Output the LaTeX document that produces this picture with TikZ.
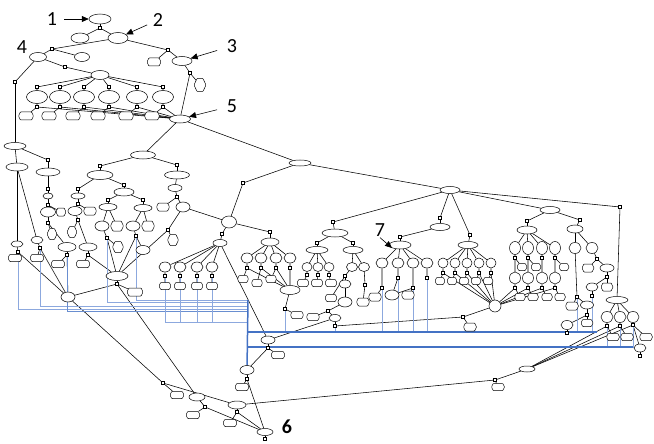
\documentclass[tikz,border=0pt]{standalone}
\usepackage{fontspec}
\setmainfont{Carlito}
\usepackage{tikz}
\usetikzlibrary{shapes.geometric,shapes.symbols,arrows.meta,backgrounds}
\definecolor{linkblue}{RGB}{68,114,196}
\definecolor{paleblue}{RGB}{140,168,222}
\tikzset{
  act/.style     = {ellipse, draw, line width=0.5pt, fill=white, inner sep=0pt},
  cond/.style    = {signal, signal to=east and west, signal pointer angle=130,
                    rounded corners=0.6pt, draw, line width=0.5pt, fill=white,
                    inner sep=0pt},
  gate/.style    = {rectangle, draw, line width=0.4pt, fill=white,
                    inner sep=0pt, minimum size=3pt},
  wire/.style    = {line width=0.55pt},
  feed/.style    = {paleblue, line width=0.8pt},
  bus/.style     = {linkblue, line width=1.5pt},
  num/.style     = {font=\fontsize{20}{20}\selectfont, inner sep=1pt},
  pointer/.style = {-{Triangle[length=7pt,width=6pt]}, line width=0.6pt},
}

\begin{document}
\begin{tikzpicture}[x=1pt,y=-1pt]
\useasboundingbox (0,0) rectangle (654,444);

% single ellipses
\foreach \n/\x/\y/\w/\h in {e1/100/19/22/10, e2/80/38/18/10, e3/118/38/20/11,
    e4/38/57/17/9, e5/82/57/15/9, e6/182/61/20/9, e7/100/75/18/9, e10/180/119/21/8,
    e20/15/146/22/7, e22/17/167/22/8, e23/48/172/24/8, e24/48/196/10/6,
    e25/48/212/15/10, e26/17/244/12/6, e27/37/240/12/7, e28/67/247/18/9,
    e21/143/155/25/8, e30/100/175/26/9, e31/177/175/25/8, e32/78/196/14/6,
    e33/124/192/20/8, e34/75/211/14/9, e35/88/247/18/8, e36/108/207/18/7,
    e37/143/208/18/7, e38/102/226/14/10, e39/133/226/14/10, e41/143/250/14/9,
    e42/175/188/14/7, e43/183/207/14/10, e45/117/276/22/9, e46/68/297/14/10,
    e40/300/163/22/6, e47/229/222/15/12, e48/220/243/14/7, e49/270/242/18/8,
    e58/290/290/20/9, e60/450/190/20/7, e61/335/233/26/8, e62/317/250/22/7,
    e63/353/250/20/7, e67/352/267/11/9, e68/364/267/11/9, e69/345/284/12/8,
    e70/345/302/14/10, e71/335/318/12/7, e72/440/227/20/7, e73/400/245/22/8,
    e81/392/295/14/10, e82/468/245/20/7, e88/495/306/12/12, e89/550/210/20/7,
    e90/527/230/20/8, e91/575/229/16/8, e100/575/248/12/11, e101/592/248/12/11,
    e102/587/305/13/8, e103/567/325/12/9, e104/607/268/14/8, e105/592/287/12/8,
    e106/617/300/22/7, e110/640/348/12/8, e111/527/369/16/6, e80/268/340/14/8,
    e112/247/370/14/9, e113/197/397/16/8, e114/237/405/18/8, e120/265/432/16/7}
  \node[act, minimum width=\w pt, minimum height=\h pt] (\n) at (\x,\y) {};

% single conditions
\foreach \n/\x/\y/\w/\h in {h1/154/62/14/8, h2/200/85/12/13, h3/61/212/10/8,
    h4/52/234/10/11, h5/15/258/14/7, h6/37/258/14/7, h7/58/264/14/7,
    h8/90/211/13/8, h9/72/232/10/11, h10/83/264/14/7, h11/117/226/13/10,
    h12/148/226/13/10, h13/118/247/11/11, h14/163/207/13/8, h15/173/240/11/11,
    h16/135/292/16/8, h25/297/315/13/7, h29/363/302/13/8, h30/331/298/12/7,
    h31/313/317/13/7, h32/375/297/13/8, h33/408/295/13/8, h39/470/327/13/8,
    h47/572/306/13/8, h48/587/323/12/7, h49/588/268/12/8, h50/607/287/12/8,
    h54/498/387/13/7, h55/278/355/14/7, h56/242/387/14/7, h57/177/395/14/7,
    h58/193/415/14/7, h59/230/423/14/7}
  \node[cond, minimum width=\w pt, minimum height=\h pt] (\n) at (\x,\y) {};

% junctions
\foreach \n/\x/\y in {s1/100/28, s2/52/49, s3/168/50, s4/190/73, s5/15/82, s6/65/67,
    s20/48/160, s21/48/189, s22/48/205, s23/48/223, s25/18/252, s26/40/248,
    s27/67/255, s30/100/166, s31/177/165, s32/78/189, s33/124/185, s34/78/204,
    s35/78/220, s36/88/255, s37/108/200, s38/143/200, s39/107/238, s40/136/236,
    s41/177/197, s42/168/230, s43/117/284, s50/243/183, s51/222/234, s52/270/232,
    s62/285/309, s63/333/222, s64/317/243, s65/353/243, s69/345/276, s70/365/285,
    s71/328/311, s72/335/326, s73/440/218, s74/400/237, s79/470/235, s85/463/317,
    s86/620/207, s87/527/221, s88/580/220, s97/577/297, s98/587/315, s99/567/333,
    s100/597/259, s101/607/277, s102/592/296, s106/640/356, s107/495/380,
    s108/268/348, s109/247/379, s110/265/439, s111/163/383, s112/205/407,
    s113/237/412}
  \node[gate] (\n) at (\x,\y) {};

% rows
\foreach \i/\x in {1/37,2/60,3/84,4/109,5/137,6/163} {
  \node[gate] (ct\i) at (\x,87) {};
  \node[act, minimum width=21pt, minimum height=13pt] (c\i) at (\x,97) {};
  \node[gate] (cb\i) at (\x,107) {};
  \node[cond, minimum width=15pt, minimum height=8pt] (ch\i) at (\x-11,116) {};
}
\foreach \i/\x in {1/165,2/180,3/197,4/212} {
  \node[act, minimum width=12pt, minimum height=10pt] (f\i) at (\x,267) {};
  \node[gate] (fs\i) at (\x,276) {};
  \node[cond, minimum width=12pt, minimum height=7pt] (fh\i) at (\x,286) {};
}
\foreach \i/\x in {1/247,2/261,3/276,4/290} {
  \node[act, minimum width=12pt, minimum height=10pt] (k\i) at (\x,258) {};
  \node[gate] (ks\i) at (\x,268) {};
}
\foreach \i/\x/\y in {1/243/279,2/257/283,3/271/279}
  \node[cond, minimum width=11pt, minimum height=7pt] (kh\i) at (\x,\y) {};
\foreach \i/\x/\hx in {1/307/303,2/318/317,3/329/331} {
  \node[act, minimum width=10pt, minimum height=9pt] (m\i) at (\x,267) {};
  \node[gate] (ms\i) at (\x,275) {};
  \node[cond, minimum width=12pt, minimum height=7pt] (mh\i) at (\hx,283) {};
}
\foreach \i/\x/\y in {1/382/288,2/398/278,3/413/288,4/427/278} {
  \node[act, minimum width=12pt, minimum height=10pt] (n\i) at (\x,263) {};
  \node[gate] (ns\i) at (\x,\y) {};
}
\foreach \i/\x in {1/443,2/455,3/467,4/479,5/491} {
  \node[act, minimum width=10pt, minimum height=10pt] (p\i) at (\x,263) {};
  \node[gate] (ps\i) at (\x,273) {};
  \node[cond, minimum width=10pt, minimum height=7pt] (ph\i) at (\x-3,281) {};
}
\foreach \i/\x in {1/515,2/528,3/542,4/555} {
  \node[act, minimum width=11pt, minimum height=13pt] (q\i) at (\x,248) {};
  \node[gate] (qs\i) at (\x,258) {};
  \node[act, minimum width=11pt, minimum height=12pt] (v\i) at (\x,278) {};
  \node[gate] (vs\i) at (\x,288) {};
  \node[cond, minimum width=11pt, minimum height=7pt] (vh\i) at (\x+5,297) {};
}
\foreach \i/\x in {1/522,2/536,3/564}
  \node[cond, minimum width=10pt, minimum height=7pt] (qh\i) at (\x,267) {};
\foreach \i/\x/\y/\hx in {1/607/326/613,2/620/326/627,3/633/325/646} {
  \node[act, minimum width=12pt, minimum height=11pt] (w\i) at (\x,317) {};
  \node[gate] (ws\i) at (\x,\y) {};
  \node[cond, minimum width=13pt, minimum height=7pt] (wh\i) at (\hx,337) {};
}

% blue bus ends
\coordinate (b1) at (248,309);
\coordinate (b2) at (248,306);
\coordinate (b3) at (248,311);
\coordinate (b4) at (248,302);
\coordinate (b5) at (248,300);
\coordinate (b6) at (248,322);
\coordinate (b7) at (248,332);
\coordinate (b8) at (248,347);
\coordinate (c7) at (597,332);
\coordinate (c8) at (633,347);

\begin{scope}[on background layer]
  \foreach \a/\b in {e1/s1, s1/e2, s1/e3, e3/s2, e3/s3, s2/e4, s2/e5, s3/h1, s3/e6,
      e6/s4, s4/h2, s4/e10, e4/s5, s5/e20, e4/s6, s6/e7, e10/e21, e10/e40,
      e20/e22, e20/s20, s20/e23, e23/s21, s21/e24, e24/s22, s22/e25, s22/h3,
      e25/s23, s23/h4, s23/e28, e28/s27, s27/h7, s27/e46, e22/e26, e26/s25,
      s25/h5, s25/e46, e22/e27, e27/s26, s26/h6, s26/e46,
      e21/s30, s30/e30, e21/s31, s31/e31, e30/s32, s32/e32, e30/s33, s33/e33,
      e32/s34, s34/e34, s34/h8, e34/s35, s35/h9, s35/e35, e35/s36, s36/h10,
      s36/e45, e33/s37, s37/e36, e33/s38, s38/e37, e36/e38, e36/h11, e37/e39,
      e37/h12, e38/s39, s39/h13, s39/e45, e39/s40, s40/e41, s40/e45, e31/e42,
      e42/s41, s41/h14, s41/e43, e43/s42, s42/h15, s42/e45, e43/e47,
      e45/s43, s43/h16, e46/s43, e46/s111, s111/h57, s111/e114, s43/e113,
      e113/s112, s112/h58, s112/e120, e114/s113, s113/h59, s113/e120, e114/s107,
      e48/e80, e80/s108, s108/h55, s108/e112, e112/s109, s109/h56, s109/e120,
      e120/s110, e80/e71,
      e40/s50, s50/e47, e47/s51, s51/e48, e47/s52, s52/e49, e58/s62, s62/h25,
      e40/e60, e60/s63, s63/e61, e61/s64, s64/e62, e61/s65, s65/e63, e63/e67,
      e63/e68, e67/s69, s69/e69, e68/s70, s70/h29, s69/h30, e69/e70, e70/s71,
      s71/h31, s71/e71, e71/s72, s72/s85,
      e60/s73, s73/e72, e72/s74, s74/e73, ns1/h32, ns2/e81, ns3/e81, ns3/h33,
      e60/s79, s79/e82, e88/s85, s85/h39,
      e60/e89, e60/s86, e89/s87, s87/e90, e89/s88, s88/e91, e91/e100, e91/e101,
      e100/s97, s97/h47, s97/e102, e102/s98, s98/h48, s98/e103, e103/s99,
      e101/s100, s100/h49, s100/e104, e104/s101, s101/e105, s101/h50, e105/s102,
      s86/e106, e110/s106, e111/s107, s107/h54}
    \draw[wire] (\a) -- (\b);
  \foreach \i in {1,...,6}
    \draw[wire] (e7) -- (ct\i) -- (c\i) -- (cb\i) -- (ch\i) (cb\i) -- (e10);
  \foreach \i in {1,...,4}
    \draw[wire] (e48) -- (f\i) -- (fs\i) -- (fh\i);
  \foreach \i in {1,...,4}
    \draw[wire] (e49) -- (k\i) -- (ks\i) -- (e58);
  \foreach \i in {1,2,3}
    \draw[wire] (ks\i) -- (kh\i);
  \foreach \i in {1,2,3}
    \draw[wire] (e62) -- (m\i) -- (ms\i) -- (mh\i);
  \foreach \i in {1,...,4}
    \draw[wire] (e73) -- (n\i) -- (ns\i);
  \foreach \i in {1,...,5}
    \draw[wire] (e82) -- (p\i) -- (ps\i) -- (ph\i) (ps\i) -- (e88);
  \foreach \i in {1,...,4}
    \draw[wire] (e90) -- (q\i) -- (qs\i) -- (v\i) -- (vs\i) -- (vh\i) (vs\i) -- (e88);
  \draw[wire] (qs1) -- (qh1) (qs2) -- (qh2) (qs4) -- (qh3);
  \foreach \i in {1,2,3}
    \draw[wire] (e106) -- (w\i) -- (ws\i) -- (wh\i) (ws\i) -- (e111);
  \draw[wire] (ws3) -- (e110);

  % blue links
  \draw[feed] (s25) |- (b1);
  \draw[feed] (s26) |- (b2);
  \draw[feed, linkblue!80] (s27) |- (b3);
  \draw[feed] (s39) |- (b4);
  \draw[feed] (s40) |- (b5);
  \foreach \i in {1,...,4}
    \draw[feed] (fs\i) |- (b6);
  \foreach \n in {s62,s72,ns1,ns2,ns3,ns4,s97,s102}
    \draw[feed] (\n) |- (b7);
  \foreach \i in {1,2,3}
    \draw[feed] (ws\i) |- (b8);
  \draw[bus] (b5) -- (e112);
  \draw[bus, line width=1.2pt] (b7) -- (c7);
  \draw[bus] (b8) -- (c8);
\end{scope}

% callouts
\node[num] (l1) at (52,19) {1};
\node[num] (l2) at (158,20) {2};
\node[num] (l3) at (232,46) {3};
\node[num] (l4) at (22,47) {4};
\node[num] (l5) at (232,106) {5};
\node[num, font=\bfseries\fontsize{20}{20}\selectfont] (l6) at (287,427) {6};
\node[num] (l7) at (380,230) {7};
\draw[pointer, shorten <=6pt] (l1) -- (e1);
\draw[pointer, shorten <=5pt] (l2) -- (e3);
\draw[pointer, shorten <=9pt] (l3) -- (e6);
\draw[pointer, shorten <=9pt] (l5) -- (e10);
\draw[pointer] (l7.south) -- (e73.south west);
\end{tikzpicture}
\end{document}
